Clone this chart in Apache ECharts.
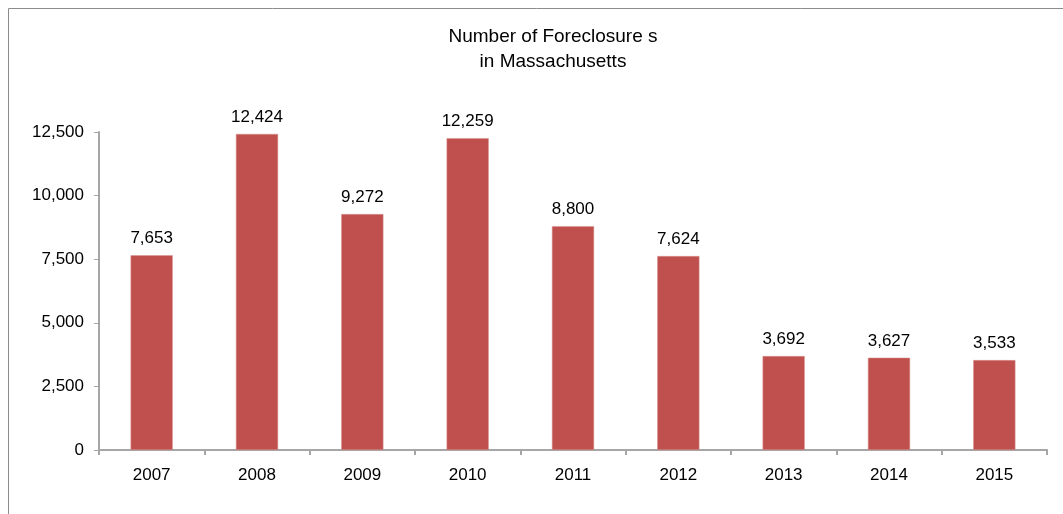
<!DOCTYPE html>
<html>
<head>
<meta charset="utf-8">
<style>
  html, body { margin: 0; padding: 0; background: #fff; }
  #chart { width: 1063px; height: 514px; }
</style>
<script src="https://cdn.jsdelivr.net/npm/echarts@6/dist/echarts.min.js"></script>
</head>
<body>
<div id="chart"></div>
<script>
// Annual foreclosure counts, Massachusetts
const years = ['2007', '2008', '2009', '2010', '2011', '2012', '2013', '2014', '2015'];
const foreclosures = [7653, 12424, 9272, 12259, 8800, 7624, 3692, 3627, 3533];
const yTicks = [0, 2500, 5000, 7500, 10000, 12500];

const chart = echarts.init(document.getElementById('chart'), null, { renderer: 'canvas' });
const axisGray = '#a6a6a6';
const labelFont = '"Liberation Sans", Arial, sans-serif';

chart.setOption({
  animation: false,
  backgroundColor: '#ffffff',
  graphic: [{
    type: 'rect',
    shape: { x: 8.5, y: 8.5, width: 1100, height: 600 },
    style: { fill: 'none', stroke: '#8c8c8c', lineWidth: 1 },
    silent: true
  }],
  title: {
    text: 'Number of Foreclosure s\nin Massachusetts',
    left: 548,
    textAlign: 'center',
    top: 19,
    textStyle: {
      fontFamily: '"Liberation Sans Narrow", "Liberation Sans", sans-serif',
      fontWeight: 'normal',
      fontSize: 19,
      lineHeight: 25,
      color: '#000'
    }
  },
  grid: { left: 99, right: 16, top: 132, bottom: 64, containLabel: false },
  xAxis: {
    type: 'category',
    data: years,
    axisLine: { lineStyle: { color: axisGray, width: 2 } },
    axisTick: { show: true, alignWithLabel: false, length: 5, lineStyle: { color: axisGray, width: 2 } },
    axisLabel: { color: '#000', fontSize: 17, fontFamily: labelFont, margin: 17 },
    splitLine: { show: false }
  },
  yAxis: {
    type: 'value',
    min: yTicks[0],
    max: yTicks[yTicks.length - 1],
    interval: yTicks[1] - yTicks[0],
    axisLine: { show: true, lineStyle: { color: axisGray, width: 2 } },
    axisTick: { show: true, length: 5, lineStyle: { color: axisGray, width: 1 } },
    axisLabel: {
      color: '#000', fontSize: 17, fontFamily: labelFont, margin: 15,
      formatter: v => v.toLocaleString('en-US')
    },
    splitLine: { show: false }
  },
  series: [{
    type: 'bar',
    data: foreclosures,
    barWidth: '40%',
    itemStyle: { color: '#c0504d', borderColor: '#d99594', borderWidth: 0.5 },
    label: {
      show: true,
      position: 'top',
      distance: 8,
      color: '#000',
      fontSize: 17,
      fontFamily: labelFont,
      formatter: p => p.value.toLocaleString('en-US')
    }
  }]
});
</script>
</body>
</html>
